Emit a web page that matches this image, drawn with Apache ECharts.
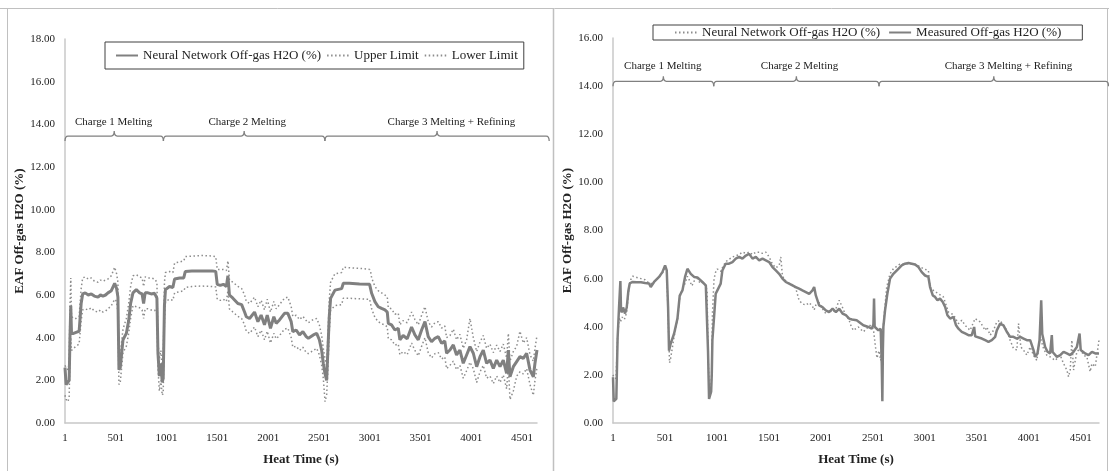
<!DOCTYPE html>
<html>
<head>
<meta charset="utf-8">
<script src="https://cdn.jsdelivr.net/npm/echarts@6/dist/echarts.min.js"></script>
<style>
html,body{margin:0;padding:0;background:#fff;}
#chart{width:1109px;height:471px;}
</style>
</head>
<body>
<div id="chart"></div>
<script>
// ---------- DATA ----------
const xTickLabels = [1, 501, 1001, 1501, 2001, 2501, 3001, 3501, 4001, 4501];
const phaseLabels = ['Charge 1 Melting', 'Charge 2 Melting', 'Charge 3 Melting + Refining'];
const phaseStart = [1, 970, 2560];
const phaseEnd = [970, 2560, 4768];
const phaseLabelTime = [480, 1795, 3805];

// Left panel: neural network prediction with confidence limits
const leftTime = [1,12,30,42,50,58,65,85,110,140,160,175,200,230,260,290,326,350,375,400,424,457,490,509,522,532,545,572,605,628,647,670,703,736,760,775,790,818,850,883,906,916,930,945,958,968,980,990,1030,1063,1080,1130,1170,1185,1250,1350,1450,1485,1500,1530,1560,1590,1605,1620,1654,1703,1740,1769,1786,1818,1867,1900,1932,1965,1992,2024,2057,2080,2113,2162,2195,2228,2244,2277,2310,2343,2376,2397,2446,2479,2505,2528,2544,2561,2577,2590,2603,2616,2626,2659,2725,2741,2800,2900,3000,3010,3020,3052,3085,3118,3151,3174,3184,3216,3249,3282,3298,3330,3370,3413,3446,3479,3512,3545,3577,3610,3643,3676,3709,3740,3758,3791,3824,3856,3889,3922,3955,3988,4021,4054,4087,4119,4152,4185,4218,4251,4284,4316,4349,4366,4382,4415,4448,4480,4513,4546,4579,4612,4628,4648];
const leftNN = [2.6,1.8,1.8,2.0,4.0,5.5,4.2,4.2,4.25,4.3,5.6,6.05,6.1,6.0,6.05,5.95,5.9,6.0,5.95,6.0,6.1,6.2,6.55,6.3,5.9,2.5,2.6,3.9,4.2,4.8,5.6,6.1,6.25,6.1,6.05,5.6,6.1,6.1,6.05,6.08,5.85,3.3,2.2,2.8,1.9,2.1,5.5,6.25,6.4,6.35,6.75,6.8,6.8,7.1,7.12,7.13,7.13,7.1,6.5,6.45,6.5,6.4,6.9,6.0,5.85,5.6,5.55,5.2,4.98,4.9,5.2,4.75,5.06,4.6,5.06,4.44,4.98,4.67,4.83,5.14,5.14,4.75,4.28,4.36,4.13,4.28,4.05,3.97,4.13,4.2,3.9,3.4,2.8,2.3,2.0,3.5,5.0,5.84,5.92,6.23,6.3,6.55,6.55,6.52,6.5,6.47,6.08,5.69,5.45,5.37,5.3,5.2,4.67,4.6,4.36,4.44,3.9,4.1,3.95,4.5,4.13,3.9,4.36,4.75,4.05,3.81,3.97,4.05,3.73,3.85,3.27,3.42,3.66,3.19,3.42,2.8,3.19,3.58,3.27,2.64,3.11,3.42,2.8,2.95,2.56,2.95,2.64,2.95,2.33,3.42,2.17,2.64,2.88,3.11,3.03,3.27,2.48,2.17,2.8,3.42];
const leftUpper = [2.7,2.6,2.5,2.8,5.5,6.8,5.0,4.9,4.9,5.0,6.3,6.8,6.85,6.75,6.8,6.65,6.6,6.7,6.65,6.7,6.75,6.9,7.3,7.0,6.6,2.6,3.2,4.4,4.9,5.6,6.4,6.9,6.95,6.85,6.8,6.4,6.85,6.8,6.8,6.75,6.6,3.8,3.0,3.4,2.5,2.8,6.6,7.05,7.1,7.05,7.5,7.55,7.6,7.8,7.82,7.85,7.83,7.8,7.2,7.2,7.2,7.15,7.6,6.7,6.6,6.4,6.3,6.0,5.7,5.6,5.9,5.45,5.75,5.3,5.8,5.2,5.7,5.35,5.55,5.85,5.9,5.45,5.0,5.05,4.85,5.0,4.8,4.7,4.85,4.9,4.6,4.1,3.5,3.0,2.7,4.2,5.8,6.6,6.7,7.0,7.05,7.3,7.28,7.25,7.2,7.1,6.8,6.4,6.2,6.1,6.0,5.9,5.4,5.35,5.1,5.15,4.6,4.8,4.7,5.2,4.85,4.6,5.05,5.45,4.75,4.5,4.7,4.75,4.45,4.55,4.0,4.1,4.4,3.9,4.15,3.5,3.9,4.9,4.0,3.35,3.8,4.1,3.5,3.7,3.3,3.65,3.35,3.7,3.05,4.2,2.9,3.35,3.6,4.3,3.75,4.0,3.2,2.9,3.5,4.1];
const leftLower = [1.3,1.1,1.0,1.2,3.2,4.0,3.4,3.5,3.6,3.7,4.8,5.3,5.35,5.3,5.4,5.25,5.2,5.3,5.2,5.25,5.35,5.5,5.8,5.7,5.2,1.8,1.9,3.3,3.6,4.2,4.9,5.5,5.45,5.4,5.3,4.9,5.35,5.35,5.3,5.3,5.1,2.6,1.5,2.0,1.3,1.4,4.8,5.7,5.8,5.75,6.1,6.15,6.2,6.35,6.4,6.42,6.4,6.38,5.8,5.75,5.8,5.7,6.2,5.35,5.2,5.0,4.9,4.6,4.3,4.2,4.5,4.05,4.35,3.9,4.3,3.75,4.2,3.95,4.1,4.4,4.45,4.0,3.55,3.6,3.4,3.55,3.3,3.25,3.4,3.5,3.2,2.7,2.1,1.0,1.3,2.6,4.3,5.3,5.35,5.5,5.55,5.85,5.85,5.82,5.8,5.75,5.35,4.95,4.75,4.65,4.6,4.5,3.95,3.9,3.65,3.7,3.2,3.35,3.2,3.75,3.4,3.15,3.6,4.0,3.3,3.05,3.25,3.3,3.0,3.1,2.55,2.7,2.9,2.5,2.7,2.1,2.45,2.85,2.55,1.9,2.4,2.7,2.1,2.2,1.85,2.2,1.9,2.25,1.6,2.7,1.1,1.5,2.2,2.4,2.3,2.55,1.8,1.3,2.0,2.6];

// Right panel: measured vs neural network
const rightMeasTime = [1,8,25,33,45,59,72,78,85,98,117,133,149,162,187,230,270,310,348,364,396,444,476,502,518,531,540,556,589,621,643,669,694,717,749,781,813,861,894,903,915,925,935,945,951,957,973,989,1005,1037,1053,1085,1117,1150,1182,1214,1246,1279,1311,1343,1375,1407,1439,1471,1503,1535,1567,1599,1631,1663,1695,1727,1759,1791,1823,1856,1888,1920,1936,1952,1984,2016,2048,2080,2113,2145,2177,2209,2241,2273,2300,2345,2409,2457,2490,2506,2512,2518,2554,2576,2586,2592,2597,2602,2618,2640,2666,2698,2746,2778,2810,2843,2875,2907,2939,2971,3003,3035,3051,3077,3099,3122,3147,3173,3196,3218,3244,3276,3301,3324,3356,3388,3420,3452,3475,3485,3500,3549,3581,3613,3645,3677,3693,3725,3757,3789,3821,3853,3886,3918,3950,3982,4014,4046,4062,4084,4104,4120,4130,4136,4158,4181,4206,4222,4230,4238,4271,4303,4335,4367,4399,4431,4463,4489,4500,4511,4543,4575,4608,4640,4676];
const rightMeas = [1.9,0.9,0.85,1.0,3.5,4.8,5.9,4.7,4.6,4.8,4.55,4.8,5.5,5.8,5.86,5.85,5.85,5.82,5.8,5.65,5.86,6.07,6.27,6.55,6.34,4.8,3.0,3.3,3.72,4.34,5.3,5.51,6.07,6.41,6.2,6.07,6.05,5.86,5.72,5.65,3.0,1.0,1.05,1.3,2.0,3.44,4.4,5.37,5.51,5.79,6.34,6.62,6.62,6.69,6.83,6.9,6.83,6.96,7.03,6.83,6.9,6.76,6.83,6.76,6.69,6.48,6.34,6.2,6.0,5.86,5.79,5.72,5.65,5.58,5.51,5.44,5.37,5.51,5.65,5.3,4.89,4.82,4.68,4.61,4.75,4.61,4.75,4.55,4.48,4.34,4.3,4.27,4.06,3.99,3.92,4.1,5.17,4.0,3.85,3.92,2.5,0.9,3.0,4.0,4.68,5.37,6.0,6.2,6.41,6.55,6.62,6.65,6.62,6.59,6.48,6.27,6.13,6.07,5.65,5.3,5.24,5.1,5.17,5.03,4.82,4.48,4.34,4.41,4.06,3.92,3.79,3.72,3.65,3.65,3.99,3.6,3.58,3.51,3.44,3.37,3.44,3.58,3.85,4.13,4.06,3.79,3.58,3.58,3.51,3.58,3.51,3.44,3.44,3.03,2.75,2.89,3.44,5.1,3.7,3.58,3.16,2.96,2.89,3.65,2.95,2.89,2.75,2.82,2.96,2.89,2.82,2.96,3.16,3.72,3.03,3.03,2.89,2.82,2.96,2.89,2.89];
const rightNNTime = [1,10,30,45,60,72,90,110,133,150,165,190,230,270,310,350,380,420,450,480,502,518,531,545,556,589,621,643,669,694,717,740,760,781,813,840,861,894,906,915,925,940,950,957,973,990,1005,1037,1053,1085,1117,1150,1182,1214,1246,1279,1311,1343,1375,1407,1439,1471,1503,1535,1567,1600,1615,1631,1663,1695,1727,1759,1791,1823,1856,1888,1920,1936,1952,1984,2016,2048,2080,2113,2145,2177,2209,2241,2273,2281,2313,2361,2409,2473,2506,2522,2540,2560,2576,2586,2608,2634,2666,2698,2760,2850,2920,2987,3035,3051,3083,3131,3179,3228,3276,3324,3356,3388,3436,3484,3533,3581,3597,3629,3661,3693,3725,3757,3789,3821,3853,3886,3902,3924,3950,3982,4014,4046,4078,4110,4142,4174,4206,4254,4303,4335,4367,4383,4399,4415,4431,4463,4495,4527,4559,4591,4608,4640,4676];
const rightNN = [2.0,1.9,1.85,3.5,4.4,4.2,4.4,4.3,4.6,5.4,5.9,6.1,6.05,6.0,5.95,5.8,5.8,5.95,6.1,6.25,6.5,6.3,4.5,2.5,2.7,3.6,4.3,5.2,5.6,5.8,6.1,5.9,5.7,5.9,6.0,5.8,5.85,5.7,5.5,3.0,1.5,1.2,2.0,4.5,6.0,6.3,6.4,6.3,6.45,6.7,6.8,6.9,6.95,7.0,7.1,7.05,7.1,7.0,7.1,7.1,7.05,7.1,6.9,6.6,6.45,6.55,6.9,6.1,5.9,5.8,5.75,5.6,5.1,4.95,4.9,5.0,4.85,4.7,4.9,5.0,4.75,4.55,4.7,4.6,4.75,5.1,4.8,4.45,4.3,4.13,3.85,3.99,3.79,4.06,3.9,3.3,2.7,3.0,2.6,3.2,4.41,5.65,6.2,6.41,6.6,6.62,6.58,6.41,6.34,5.65,5.51,5.37,5.24,4.61,4.5,4.13,4.27,4.06,3.85,4.34,4.2,3.85,3.99,3.65,3.85,4.2,4.27,4.06,3.85,3.44,3.1,3.03,4.13,3.16,3.03,2.82,3.16,2.82,2.6,3.58,3.1,2.82,2.75,2.6,2.82,2.47,2.2,1.92,2.2,3.44,2.2,2.96,3.1,2.82,2.75,2.13,2.47,2.34,3.44];

// annotation levels (data units)
const leftBraceLevel = 13.45, leftLabelLevel = 14.1;
const rightBraceLevel = 14.2, rightLabelLevel = 14.85;

// ---------- CHART ----------
const FONT = '"Liberation Serif", "Times New Roman", serif';
const GREY = '#808080';
const zip = (a, b) => a.map((t, i) => [t, b[i]]);
const braceData = phaseStart.map((s, i) => [s, phaseEnd[i], phaseLabelTime[i]]);

function braceRenderer(braceLevel, labelLevel) {
  return function (params, api) {
    const i = params.dataIndex;
    const p0 = api.coord([api.value(0), braceLevel]);
    const p1 = api.coord([api.value(1), braceLevel]);
    const pl = api.coord([api.value(2), labelLevel]);
    const y = p0[1], x0 = p0[0], x1 = p1[0], xm = (x0 + x1) / 2;
    const h = 5, r = 3;
    const d = 'M' + x0 + ',' + (y + h) + ' Q' + x0 + ',' + y + ' ' + (x0 + r) + ',' + y +
      ' L' + (xm - r) + ',' + y + ' Q' + xm + ',' + y + ' ' + xm + ',' + (y - h) +
      ' Q' + xm + ',' + y + ' ' + (xm + r) + ',' + y +
      ' L' + (x1 - r) + ',' + y + ' Q' + x1 + ',' + y + ' ' + x1 + ',' + (y + h);
    return {
      type: 'group',
      children: [
        { type: 'path', shape: { pathData: d }, style: { fill: null, stroke: GREY, lineWidth: 1.3 } },
        { type: 'text', x: pl[0], y: pl[1], style: { text: phaseLabels[i], fill: '#222', font: '11px ' + FONT, align: 'center', verticalAlign: 'middle' } }
      ]
    };
  };
}

function xAxisCfg(gridIndex, max) {
  return {
    type: 'value', gridIndex: gridIndex, min: 1, max: max,
    name: 'Heat Time (s)', nameLocation: 'middle', nameGap: 30,
    nameTextStyle: { fontFamily: FONT, fontSize: 13, fontWeight: 'bold', color: '#222' },
    axisLine: { show: true, lineStyle: { color: '#c8c8c8', width: 1.5 } },
    axisTick: { show: false },
    splitLine: { show: false },
    axisLabel: { customValues: xTickLabels, formatter: v => String(Math.round(v)), fontFamily: FONT, fontSize: 11, color: '#222', margin: 10 }
  };
}
function yAxisCfg(gridIndex, max) {
  return {
    type: 'value', gridIndex: gridIndex, min: 0, max: max, interval: 2,
    name: 'EAF Off-gas H2O (%)', nameLocation: 'middle', nameGap: 37,
    nameTextStyle: { fontFamily: FONT, fontSize: 13, fontWeight: 'bold', color: '#222' },
    axisLine: { show: true, lineStyle: { color: '#c8c8c8', width: 1.5 } },
    axisTick: { show: false },
    splitLine: { show: false },
    axisLabel: { formatter: v => v.toFixed(2), fontFamily: FONT, fontSize: 11, color: '#222', margin: 10 }
  };
}

const NN_NAME = 'Neural Network Off-gas H2O (%)';
const NN_NAME_R = 'Neural Network Off-gas H2O (%)\u200b';
const legendBase = {
  itemWidth: 22, itemHeight: 10,
  borderColor: '#404040', borderWidth: 1,
  itemStyle: { opacity: 0 },
  textStyle: { fontFamily: FONT, fontSize: 13, color: '#222' }
};

const chart = echarts.init(document.getElementById('chart'), null, { renderer: 'canvas' });
chart.setOption({
  animation: false,
  backgroundColor: '#fff',
  grid: [
    { left: 65, top: 39, width: 472, height: 384 },
    { left: 613, top: 38, width: 486, height: 385 }
  ],
  xAxis: [xAxisCfg(0, 4648), xAxisCfg(1, 4676)],
  yAxis: [yAxisCfg(0, 18), yAxisCfg(1, 16)],
  legend: [
    Object.assign({}, legendBase, {
      left: 105, top: 42, itemGap: 5, padding: [7, 6, 7, 10],
      data: [NN_NAME, 'Upper Limit', 'Lower Limit']
    }),
    Object.assign({}, legendBase, {
      left: 653, top: 25, itemGap: 8, padding: [1, 21, 1, 21],
      data: [NN_NAME_R, 'Measured Off-gas H2O (%)']
    })
  ],
  graphic: [
    { type: 'line', shape: { x1: 0, y1: 8.5, x2: 1109, y2: 8.5 }, style: { stroke: '#c0c0c0', lineWidth: 1 } },
    { type: 'line', shape: { x1: 7.5, y1: 8.5, x2: 7.5, y2: 471 }, style: { stroke: '#c0c0c0', lineWidth: 1 } },
    { type: 'line', shape: { x1: 553.5, y1: 8.5, x2: 553.5, y2: 471 }, style: { stroke: '#c0c0c0', lineWidth: 1.5 } },
    { type: 'line', shape: { x1: 1107.5, y1: 8.5, x2: 1107.5, y2: 471 }, style: { stroke: '#c0c0c0', lineWidth: 1 } }
  ],
  series: [
    { name: 'Upper Limit', type: 'line', xAxisIndex: 0, yAxisIndex: 0, data: zip(leftTime, leftUpper), showSymbol: false, symbol: 'none',
      lineStyle: { color: '#8c8c8c', width: 1.5, type: [1.5, 2.5] }, itemStyle: { color: '#8c8c8c' } },
    { name: 'Lower Limit', type: 'line', xAxisIndex: 0, yAxisIndex: 0, data: zip(leftTime, leftLower), showSymbol: false, symbol: 'none',
      lineStyle: { color: '#8c8c8c', width: 1.5, type: [1.5, 2.5] }, itemStyle: { color: '#8c8c8c' } },
    { name: NN_NAME, type: 'line', xAxisIndex: 0, yAxisIndex: 0, data: zip(leftTime, leftNN), showSymbol: false, symbol: 'none',
      lineStyle: { color: GREY, width: 3 }, itemStyle: { color: GREY } },
    { name: NN_NAME_R, type: 'line', xAxisIndex: 1, yAxisIndex: 1, data: zip(rightNNTime, rightNN), showSymbol: false, symbol: 'none',
      lineStyle: { color: '#8c8c8c', width: 1.5, type: [1.5, 2.5] }, itemStyle: { color: '#8c8c8c' } },
    { name: 'Measured Off-gas H2O (%)', type: 'line', xAxisIndex: 1, yAxisIndex: 1, data: zip(rightMeasTime, rightMeas), showSymbol: false, symbol: 'none',
      lineStyle: { color: GREY, width: 2.5 }, itemStyle: { color: GREY } },
    { type: 'custom', xAxisIndex: 0, yAxisIndex: 0, clip: false, silent: true, data: braceData,
      renderItem: braceRenderer(leftBraceLevel, leftLabelLevel) },
    { type: 'custom', xAxisIndex: 1, yAxisIndex: 1, clip: false, silent: true, data: braceData,
      renderItem: braceRenderer(rightBraceLevel, rightLabelLevel) }
  ]
});
</script>
</body>
</html>
